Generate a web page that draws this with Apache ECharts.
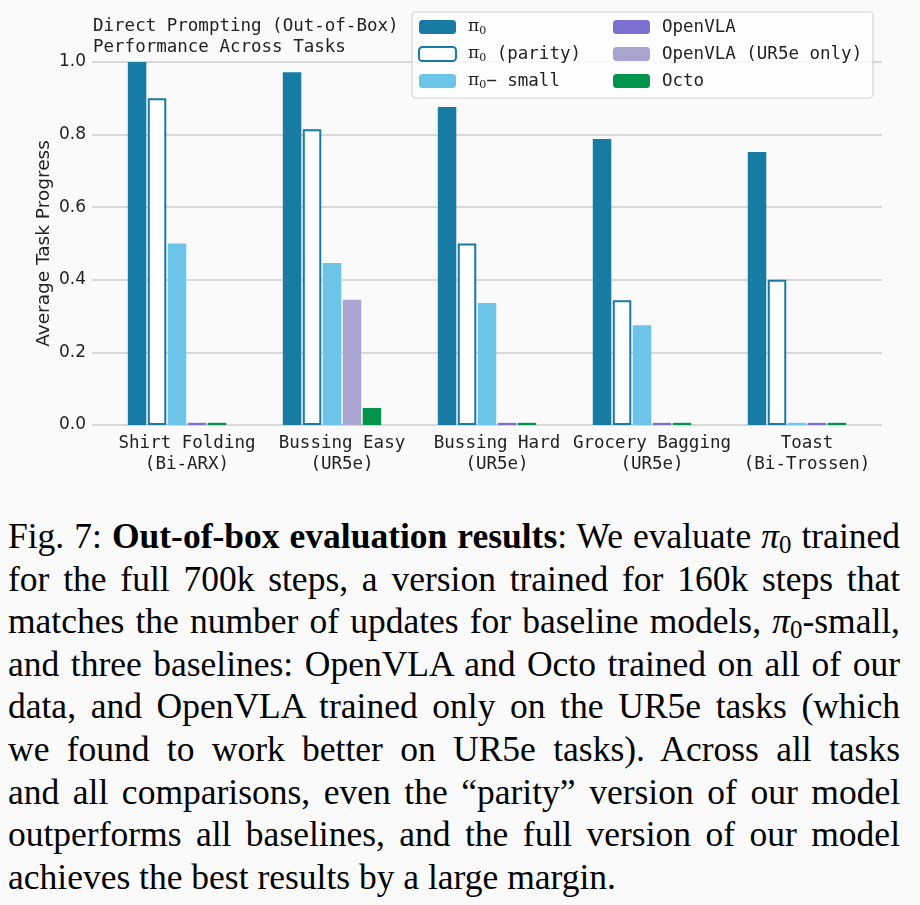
<!DOCTYPE html>
<html>
<head>
<meta charset="utf-8">
<script src="https://cdn.jsdelivr.net/npm/echarts@6/dist/echarts.min.js"></script>
<style>
  html, body { margin: 0; padding: 0; background: #fafafa; }
  #chart { position: absolute; left: 0; top: 0; width: 920px; height: 500px; }
  #caption {
    position: absolute; left: 8px; top: 515px; width: 892px;
    font-family: "Liberation Serif", "Times New Roman", serif;
    font-size: 35.5px; color: #000;
  }
  #caption div {
    height: 42.6px; line-height: 42.6px; white-space: nowrap;
    text-align: justify; text-align-last: justify;
  }
  #caption div.last { text-align-last: left; }
  #caption sub { font-size: 0.7em; vertical-align: -0.22em; line-height: 0; }
</style>
</head>
<body>
<div id="chart"></div>
<div id="caption">
  <div>Fig. 7: <b>Out-of-box evaluation results</b>: We evaluate <i>π</i><sub>0</sub> trained</div>
  <div>for the full 700k steps, a version trained for 160k steps that</div>
  <div>matches the number of updates for baseline models, <i>π</i><sub>0</sub>-small,</div>
  <div>and three baselines: OpenVLA and Octo trained on all of our</div>
  <div>data, and OpenVLA trained only on the UR5e tasks (which</div>
  <div>we found to work better on UR5e tasks). Across all tasks</div>
  <div>and all comparisons, even the “parity” version of our model</div>
  <div>outperforms all baselines, and the full version of our model</div>
  <div class="last">achieves the best results by a large margin.</div>
</div>
<script>
// task categories
const tasks = ['Shirt Folding\n(Bi-ARX)', 'Bussing Easy\n(UR5e)', 'Bussing Hard\n(UR5e)',
               'Grocery Bagging\n(UR5e)', 'Toast\n(Bi-Trossen)'];

// average task progress per model
const pi0        = [1.0, 0.972, 0.876, 0.788, 0.752];
const pi0Parity  = [0.90, 0.815, 0.50, 0.344, 0.40];
const pi0Small   = [0.50, 0.446, 0.336, 0.275, 0.006];
const openVLA    = [0.006, 0.006, 0.006, 0.006, 0.006];
const openVLAUR5 = [null, 0.345, 0, 0, null];
const octo       = [0.006, 0.047, 0.006, 0.006, 0.006];

const yTicks = [0, 0.2, 0.4, 0.6, 0.8, 1.0];

const mono = '"DejaVu Sans Mono", "Liberation Mono", monospace';
const sans = '"DejaVu Sans", sans-serif';

const chart = echarts.init(document.getElementById('chart'));

// x positions are the task index, so the axis can be padded like matplotlib
const atTask = arr => arr.map((v, i) => [i, v]);

const legendRich = {
    pi: { fontFamily: '"DejaVu Serif", serif', fontSize: 17, color: '#222' },
    sub: { fontFamily: '"DejaVu Serif", serif', fontSize: 11, color: '#222', padding: [9, 0, 0, 0] },
    t: { fontFamily: mono, fontSize: 17.5, color: '#222' }
};

function legendFmt(name) {
    if (name === 'pi0') return '{pi|π}{sub|0}';
    if (name === 'pi0 (parity)') return '{pi|π}{sub|0}{t| (parity)}';
    if (name === 'pi0 - small') return '{pi|π}{sub|0}{t|− small}';
    return '{t|' + name + '}';
}

const barW = 18.5;

const legendBase = {
    orient: 'vertical',
    top: 12,
    padding: [5, 0, 0, 6],
    itemWidth: 37,
    itemHeight: 14,
    itemGap: 7,
    z: 20,
    selectedMode: false,
    formatter: legendFmt,
    textStyle: { lineHeight: 20, padding: [0, 0, 0, 7], rich: legendRich }
};

chart.setOption({
    backgroundColor: '#fafafa',
    animation: false,
    title: {
        text: 'Direct Prompting (Out-of-Box)\nPerformance Across Tasks',
        left: 88,
        top: 11,
        textStyle: { fontFamily: mono, fontSize: 17.5, fontWeight: 'normal', color: '#222', lineHeight: 21 }
    },
    graphic: [{
        type: 'rect',
        z: 10,
        shape: { x: 412, y: 12, width: 461, height: 86, r: 4 },
        style: { fill: 'rgba(255,255,255,0.8)', stroke: '#d3d3d3', lineWidth: 1.2 }
    }],
    legend: [
        Object.assign({}, legendBase, { left: 412, data: ['pi0', 'pi0 (parity)', 'pi0 - small'] }),
        Object.assign({}, legendBase, { left: 607, data: ['OpenVLA', 'OpenVLA (UR5e only)', 'Octo'] })
    ],
    grid: { left: 92, right: 38, top: 62, bottom: 75 },
    xAxis: {
        type: 'value',
        min: -0.613,
        max: 4.484,
        axisLine: { show: false },
        axisTick: { show: false },
        splitLine: { show: false },
        axisLabel: {
            customValues: tasks.map((t, i) => i),
            formatter: v => tasks[Math.round(v)],
            fontFamily: mono, fontSize: 17.5, color: '#222', lineHeight: 21, margin: 8
        }
    },
    yAxis: {
        type: 'value',
        min: yTicks[0],
        max: yTicks[yTicks.length - 1],
        interval: 0.2,
        name: 'Average Task Progress',
        nameLocation: 'middle',
        nameGap: 38,
        nameMoveOverlap: false,
        nameTextStyle: { fontFamily: sans, fontSize: 18.5, color: '#222' },
        axisLine: { show: false },
        axisTick: { show: false },
        axisLabel: { fontFamily: sans, fontSize: 17, color: '#222', margin: 6, formatter: v => v.toFixed(1) },
        splitLine: { lineStyle: { color: '#cccccc', width: 1.5 } }
    },
    series: [
        { name: 'pi0', type: 'bar', data: atTask(pi0), barWidth: barW, barGap: '8%',
          itemStyle: { color: '#177ba3' } },
        { name: 'pi0 (parity)', type: 'bar', data: atTask(pi0Parity), barWidth: barW, barGap: '8%',
          itemStyle: { color: '#ffffff', borderColor: '#177ba3', borderWidth: 2 } },
        { name: 'pi0 - small', type: 'bar', data: atTask(pi0Small), barWidth: barW, barGap: '8%',
          itemStyle: { color: '#6cc5e8' } },
        { name: 'OpenVLA', type: 'bar', stack: 'openvla', data: atTask(openVLA), barWidth: barW, barGap: '8%',
          itemStyle: { color: '#7b6fd0' } },
        { name: 'OpenVLA (UR5e only)', type: 'bar', stack: 'openvla', data: atTask(openVLAUR5), barWidth: barW, barGap: '8%',
          itemStyle: { color: '#aaa4d0' } },
        { name: 'Octo', type: 'bar', data: atTask(octo), barWidth: barW, barGap: '8%',
          itemStyle: { color: '#00944b' } },
        // empty sixth slot, keeps the group placement
        { name: 'pad', type: 'bar', data: atTask(tasks.map(() => null)), barWidth: barW, barGap: '8%' }
    ]
});
</script>
</body>
</html>
